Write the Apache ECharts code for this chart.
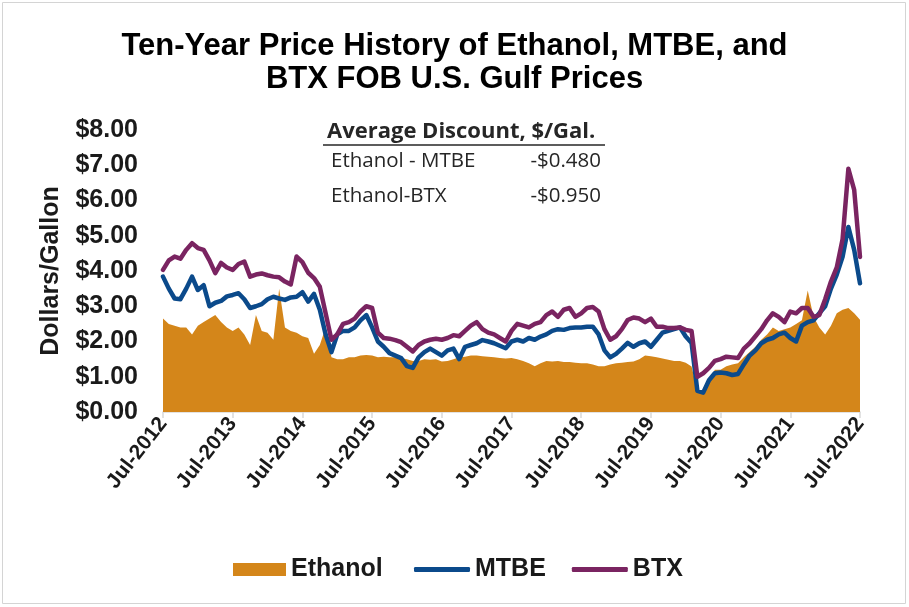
<!DOCTYPE html>
<html><head><meta charset="utf-8">
<script src="https://cdn.jsdelivr.net/npm/echarts@6/dist/echarts.min.js"></script>
<style>html,body{margin:0;padding:0;background:#fff}#c{width:909px;height:607px}</style>
</head><body><div id="c"></div>
<script>
// ---- data ----
const monthNames = ['Jan','Feb','Mar','Apr','May','Jun','Jul','Aug','Sep','Oct','Nov','Dec'];
const firstYear = 2012, firstMonthIndex = 6, monthCount = 121; // Jul-2012 .. Jul-2022
const categories = [];
for (let i = 0; i < monthCount; i++) {
  const k = firstMonthIndex + i;
  categories.push(monthNames[k % 12] + '-' + (firstYear + Math.floor(k / 12)));
}
const ethanol = [
  2.65,2.5,2.45,2.4,2.4,2.2,2.45,2.55,2.65,2.75,2.55,2.4,
  2.3,2.4,2.2,1.9,2.75,2.3,2.25,2.05,3.5,2.4,2.3,2.25,
  2.15,2.1,1.65,1.9,2.4,1.55,1.5,1.5,1.55,1.55,1.6,1.62,
  1.6,1.55,1.57,1.55,1.55,1.53,1.5,1.45,1.45,1.5,1.48,1.5,
  1.43,1.45,1.5,1.55,1.57,1.6,1.6,1.58,1.57,1.55,1.53,1.52,
  1.53,1.5,1.45,1.38,1.3,1.38,1.45,1.43,1.45,1.42,1.42,1.4,
  1.38,1.38,1.35,1.3,1.3,1.35,1.38,1.4,1.42,1.43,1.5,1.6,
  1.58,1.55,1.52,1.48,1.45,1.45,1.4,1.29,0.6,0.6,0.85,1.2,
  1.2,1.3,1.35,1.38,1.55,1.7,1.85,2.05,2.2,2.4,2.3,2.35,
  2.4,2.5,2.6,3.45,2.7,2.4,2.2,2.45,2.8,2.9,2.95,2.8,
  2.62
];
const mtbe = [
  3.84,3.5,3.22,3.2,3.5,3.84,3.46,3.6,3.0,3.1,3.15,3.28,
  3.32,3.37,3.2,2.95,3.0,3.06,3.2,3.27,3.22,3.18,3.25,3.27,
  3.4,3.13,3.35,2.9,2.2,1.7,2.2,2.3,2.3,2.4,2.6,2.75,
  2.4,2.0,1.85,1.67,1.6,1.53,1.3,1.25,1.55,1.7,1.8,1.7,
  1.6,1.75,1.8,1.5,1.85,1.9,1.95,2.04,2.0,1.95,1.88,1.81,
  2.0,2.05,2.0,2.1,2.05,2.14,2.2,2.3,2.35,2.33,2.38,2.4,
  2.4,2.42,2.42,2.2,1.75,1.55,1.65,1.8,1.96,1.85,1.95,2.0,
  1.85,2.05,2.25,2.3,2.35,2.4,2.14,1.96,0.6,0.55,0.9,1.1,
  1.12,1.1,1.05,1.08,1.35,1.6,1.75,1.95,2.05,2.1,2.2,2.25,
  2.1,2.0,2.45,2.55,2.6,2.8,3.0,3.5,3.9,4.4,5.25,4.6,
  3.65
];
const btx = [
  4.03,4.3,4.41,4.35,4.6,4.79,4.65,4.6,4.3,3.94,4.23,4.1,
  4.03,4.2,4.27,3.84,3.9,3.93,3.88,3.84,3.82,3.7,3.62,4.41,
  4.25,3.95,3.8,3.55,2.8,2.05,2.2,2.5,2.55,2.65,2.85,3.0,
  2.95,2.25,2.1,2.08,2.04,1.98,1.85,1.72,1.9,2.0,2.05,2.08,
  2.05,2.1,2.18,2.15,2.3,2.45,2.55,2.35,2.25,2.2,2.1,2.0,
  2.3,2.5,2.45,2.4,2.5,2.55,2.75,2.85,2.7,2.9,2.95,2.7,
  2.8,2.95,2.98,2.85,2.35,2.05,2.15,2.35,2.61,2.68,2.65,2.55,
  2.65,2.42,2.42,2.38,2.38,2.4,2.33,2.3,1.0,1.1,1.25,1.45,
  1.5,1.57,1.55,1.53,1.8,1.95,2.15,2.35,2.6,2.8,2.7,2.55,
  2.85,2.8,2.95,2.95,2.7,2.75,3.2,3.7,4.1,4.9,6.9,6.3,
  4.4
];
const yMin = 0, yMax = 8, yStep = 1;
const titleLines = ['Ten-Year Price History of Ethanol, MTBE, and', 'BTX FOB U.S. Gulf Prices'];
const tableHeader = 'Average Discount, $/Gal.';
const tableRows = [['Ethanol - MTBE', '-$0.480'], ['Ethanol-BTX', '-$0.950']];

// ---- chart ----
const FONT = '"Liberation Sans", Arial, sans-serif';
const TFONT = '"Open Sans", Lato, sans-serif';
const C_ETH = '#D4861A', C_MTBE = '#0B4A8B', C_BTX = '#7A2461';
const chart = echarts.init(document.getElementById('c'), null, {renderer: 'canvas'});

const graphics = [
  {type: 'rect', shape: {x: 2.5, y: 2.5, width: 903, height: 601}, style: {fill: 'none', stroke: '#d4d4d4', lineWidth: 1}, silent: true},
  {type: 'text', x: 327, y: 132, style: {text: tableHeader, font: 'bold 22px ' + TFONT, fill: '#262626', textVerticalAlign: 'middle'}},
  {type: 'line', shape: {x1: 323, y1: 145, x2: 605, y2: 145}, style: {stroke: '#262626', lineWidth: 1.5}}
];
tableRows.forEach((r, i) => {
  const y = 161 + i * 35;
  graphics.push({type: 'text', x: 331, y: y, style: {text: r[0], font: '20.5px ' + TFONT, fill: '#262626', textVerticalAlign: 'middle'}});
  graphics.push({type: 'text', x: 601, y: y, style: {text: r[1], font: '20.5px ' + TFONT, fill: '#262626', textAlign: 'right', textVerticalAlign: 'middle'}});
});

const legendText = {fontFamily: FONT, fontSize: 25, fontWeight: 'bold', color: '#1a1a1a'};

chart.setOption({
  animation: false,
  backgroundColor: '#fff',
  title: {
    text: titleLines.join('\n'),
    left: 'center', top: 25,
    textStyle: {fontFamily: FONT, fontSize: 31, fontWeight: 'bold', color: '#000', lineHeight: 33}
  },
  grid: {left: 163, right: 49, top: 130, bottom: 195, containLabel: false, outerBoundsMode: 'none'},
  legend: [
    {left: 228, top: 552, itemWidth: 53, itemHeight: 13, textStyle: legendText,
      data: [{name: 'Ethanol', icon: 'rect'}]},
    {left: 409, top: 552, itemWidth: 56, itemHeight: 5, itemGap: 26, textStyle: legendText,
      data: [{name: 'MTBE', icon: 'roundRect'}, {name: 'BTX', icon: 'roundRect'}]}
  ],
  xAxis: {
    type: 'category', data: categories, boundaryGap: false,
    axisLine: {lineStyle: {color: '#d9d9d9', width: 1.5}},
    axisTick: {show: true, interval: 11, length: 6, lineStyle: {color: '#d9d9d9', width: 1.5}},
    axisLabel: {interval: 11, rotate: 52, margin: 8, fontFamily: FONT, fontSize: 21, fontWeight: 'bold', color: '#1a1a1a'},
    splitLine: {show: false}
  },
  yAxis: {
    type: 'value', min: yMin, max: yMax, interval: yStep,
    name: 'Dollars/Gallon', nameLocation: 'middle', nameGap: 99, nameRotate: 90,
    nameTextStyle: {fontFamily: FONT, fontSize: 25, fontWeight: 'bold', color: '#1a1a1a'},
    axisLine: {show: false}, axisTick: {show: false}, splitLine: {show: false},
    axisLabel: {margin: 25, fontFamily: FONT, fontSize: 25, fontWeight: 'bold', color: '#1a1a1a',
      formatter: v => '$' + v.toFixed(2)}
  },
  graphic: graphics,
  series: [
    {name: 'Ethanol', type: 'line', data: ethanol, symbol: 'none', showSymbol: false, z: 1,
      lineStyle: {width: 0, color: C_ETH}, itemStyle: {color: C_ETH},
      areaStyle: {color: C_ETH, opacity: 1}},
    {name: 'MTBE', type: 'line', data: mtbe, symbol: 'none', showSymbol: false, z: 2,
      lineStyle: {width: 4.5, color: C_MTBE, join: 'round', cap: 'round'}, itemStyle: {color: C_MTBE}},
    {name: 'BTX', type: 'line', data: btx, symbol: 'none', showSymbol: false, z: 3,
      lineStyle: {width: 4.5, color: C_BTX, join: 'round', cap: 'round'}, itemStyle: {color: C_BTX}}
  ]
});
</script></body></html>
